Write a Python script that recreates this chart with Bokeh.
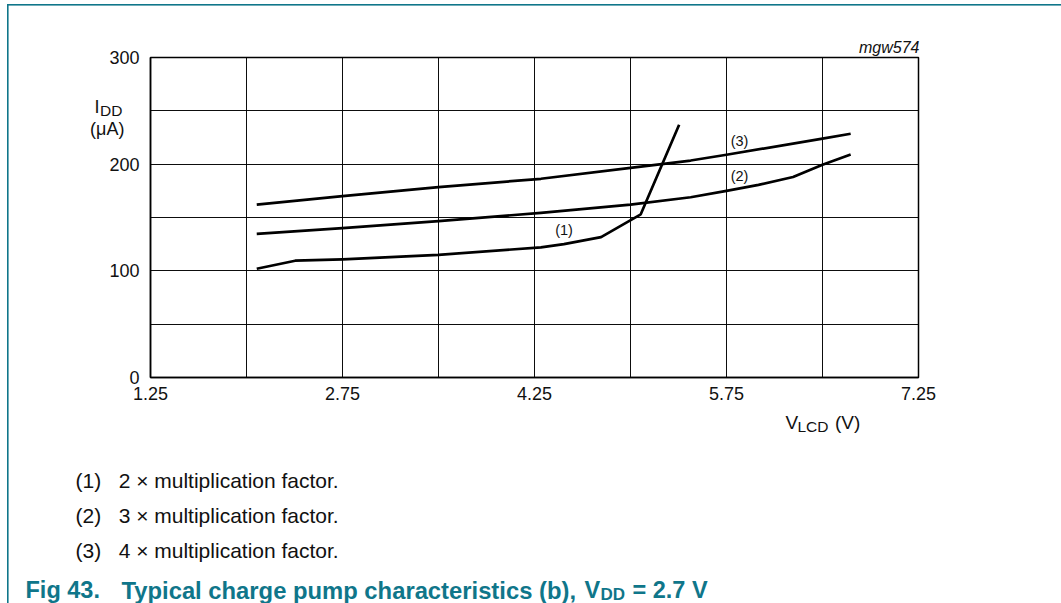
from bokeh.plotting import figure
from bokeh.models import Range1d, FixedTicker, Label
from bokeh.embed import file_html
from bokeh.resources import INLINE

# ---- data ----
vlcd_1 = [2.08, 2.38, 2.75, 3.50, 4.30, 4.48, 4.77, 5.08, 5.38]
idd_1 = [102.0, 109.5, 110.8, 115.0, 122.0, 125.0, 131.6, 153.0, 237.0]

vlcd_2 = [2.08, 2.75, 3.50, 4.30, 5.00, 5.47, 5.75, 6.00, 6.27, 6.50, 6.72]
idd_2 = [134.7, 140.0, 146.6, 154.4, 162.0, 169.0, 175.0, 180.6, 188.0, 199.4, 209.0]

vlcd_3 = [2.08, 2.75, 3.50, 4.30, 5.00, 5.47, 5.75, 6.50, 6.72]
idd_3 = [162.0, 170.0, 178.5, 186.3, 196.6, 203.4, 208.8, 224.0, 228.5]

x_ticks = [1.25, 2.75, 4.25, 5.75, 7.25]
x_tick_labels = ["1.25", "2.75", "4.25", "5.75", "7.25"]
y_ticks = [0, 100, 200, 300]
y_tick_labels = ["0", "100", "200", "300"]
x_grid = [1.25, 2.0, 2.75, 3.5, 4.25, 5.0, 5.75, 6.5, 7.25]
y_grid = [0, 50, 100, 150, 200, 250, 300]

curve_labels = ["(1)", "(2)", "(3)"]
notes = ["2 \u00d7 multiplication factor.", "3 \u00d7 multiplication factor.", "4 \u00d7 multiplication factor."]

TEAL = "#0f768a"
FONT = "Liberation Sans"
INK = "#111111"
NB = "\u00a0"

p = figure(frame_width=768, frame_height=320,
           min_border_left=150, min_border_right=143,
           min_border_top=57, min_border_bottom=226,
           x_range=Range1d(1.25, 7.25), y_range=Range1d(0, 300),
           output_backend="svg", toolbar_location=None)

p.background_fill_color = "white"
p.border_fill_color = "white"
p.border_fill_alpha = 0
p.outline_line_color = "black"
p.outline_line_width = 1.5
# teal frame lines (top and left) of the datasheet figure box
p.styles = {
    "background-color": "white",
    "background-image": "linear-gradient(%s,%s), linear-gradient(%s,%s)" % (TEAL, TEAL, TEAL, TEAL),
    "background-position": "6.5px 3.5px, 6.5px 3.5px",
    "background-size": "100% 1.6px, 1.6px 100%",
    "background-repeat": "no-repeat",
}

p.xaxis.ticker = FixedTicker(ticks=x_ticks)
p.yaxis.ticker = FixedTicker(ticks=y_ticks)
p.xaxis.major_label_overrides = {t: s for t, s in zip(x_ticks, x_tick_labels)}
p.yaxis.major_label_overrides = {t: s for t, s in zip(y_ticks, y_tick_labels)}
p.xgrid.ticker = FixedTicker(ticks=x_grid)
p.ygrid.ticker = FixedTicker(ticks=y_grid)

for ax in (p.xaxis, p.yaxis):
    ax.major_tick_out = 0
    ax.major_tick_in = 0
    ax.minor_tick_out = 0
    ax.minor_tick_in = 0
    ax.axis_line_color = "black"
    ax.axis_line_width = 1.5
    ax.major_label_text_font = FONT
    ax.major_label_text_font_size = "18px"
    ax.major_label_text_color = INK
p.xaxis.major_label_standoff = 9
p.yaxis.major_label_standoff = 11

for g in (p.xgrid, p.ygrid):
    g.grid_line_color = "black"
    g.grid_line_width = 1
    g.grid_line_alpha = 0.95

for xs, ys in ((vlcd_1, idd_1), (vlcd_2, idd_2), (vlcd_3, idd_3)):
    p.line(xs, ys, line_color="black", line_width=2.7, line_join="round")


def lab(text, px, py, size, side="center", align="left", baseline="alphabetic",
        color=INK, style="normal"):
    lb = Label(x=px, y=py, x_units="canvas", y_units="canvas",
               text=text, text_font=FONT,
               text_font_size=size, text_align=align,
               text_baseline=baseline, text_color=color,
               text_font_style=style)
    if side == "center":
        p.add_layout(lb)
    else:
        p.add_layout(lb, side)


# curve labels (inside the frame)
lab(curve_labels[0], 563.5, 229, "14.5px", align="center", baseline="middle")
lab(curve_labels[1], 739, 175, "14.5px", align="center", baseline="middle")
lab(curve_labels[2], 739, 140, "14.5px", align="center", baseline="middle")

# figure id
lab("mgw574", 919, 47, "16px", side="above", align="right", style="italic")

# y axis label I_DD (µA)
lab("I", 94, 106.5, "18px", side="left")
lab("DD", 99.5, 110, "15.5px", side="left")
lab("(\u03bcA)", 106.8, 128.5, "18px", side="left", align="center")

# x axis label V_LCD (V)
lab("V", 785, 421.5, "19px", side="right")
lab("LCD", 797, 426, "15.5px", side="right")
lab("(V)", 834.5, 421.5, "19px", side="right")

# notes
for i, t in enumerate(notes):
    base = 480 + 35 * i
    lab("(%d)%s%s" % (i + 1, NB * 3, t), 75, base, "21px", side="below")

# figure caption
lab("Fig 43.", 25, 589.5, "23.5px", side="below", color=TEAL, style="bold")
lab("Typical charge pump characteristics (b),", 121, 589.5, "23.8px",
    side="below", color=TEAL, style="bold")
lab("V", 584, 589.5, "23.5px", side="right", color=TEAL, style="bold")
lab("DD", 600, 593.5, "17px", side="right", color=TEAL, style="bold")
lab("= 2.7 V", 632, 589.5, "23.5px", side="below", color=TEAL, style="bold")

open("out.html", "w").write(file_html(p, INLINE))
